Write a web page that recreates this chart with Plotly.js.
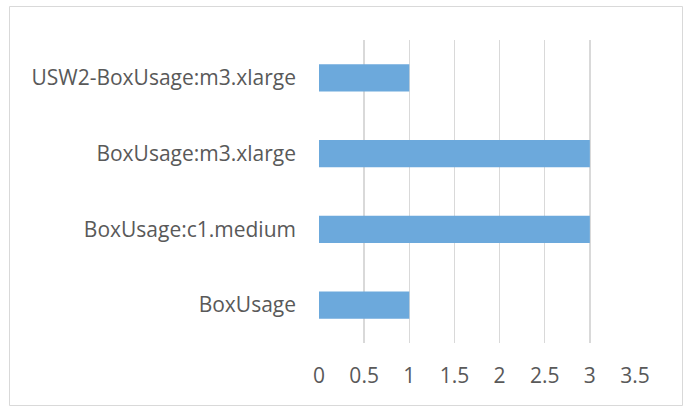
<!DOCTYPE html>
<html>
<head>
<meta charset="utf-8">
<script src="https://cdn.plot.ly/plotly-3.0.1.min.js"></script>
<style>html,body{margin:0;padding:0;background:#fff;}#chart{width:688px;height:407px;}</style>
</head>
<body>
<div id="chart"></div>
<script>
const categories = ["BoxUsage", "BoxUsage:c1.medium", "BoxUsage:m3.xlarge", "USW2-BoxUsage:m3.xlarge"];
const values = [1, 3, 3, 1];
const xTicks = [0, 0.5, 1, 1.5, 2, 2.5, 3, 3.5];
const xTickLabels = ["0", "0.5", "1", "1.5", "2", "2.5", "3", "3.5"];

const W = 688, H = 407;
const L = 319, R = 635, T = 40, B = 343;
const pw = R - L, ph = B - T;
const px = x => (x - L) / pw;
const py = y => (B - y) / ph;

const trace = {
  type: "bar",
  orientation: "h",
  x: values,
  y: categories,
  marker: {color: "#6CA9DC"},
  hoverinfo: "none"
};

const layout = {
  width: W, height: H,
  margin: {l: L, r: W - R, t: T, b: H - B, pad: 0},
  paper_bgcolor: "#fff",
  plot_bgcolor: "#fff",
  showlegend: false,
  bargap: 0.64,
  font: {family: "Open Sans, sans-serif", color: "#595959", size: 21},
  xaxis: {
    range: [0, 3.5],
    tickvals: xTicks,
    ticktext: xTickLabels,
    showgrid: true,
    gridcolor: "#d9d9d9",
    gridwidth: 1.5,
    zeroline: false,
    showline: false,
    ticks: "",
    ticklabelstandoff: 18,
    tickfont: {size: 21, color: "#595959"},
    fixedrange: true
  },
  yaxis: {
    type: "category",
    categoryorder: "array",
    categoryarray: categories,
    showgrid: false,
    zeroline: false,
    showline: false,
    ticks: "",
    ticklabelstandoff: 22,
    tickfont: {size: 21, color: "#595959"},
    fixedrange: true
  },
  shapes: [{
    type: "rect", xref: "paper", yref: "paper",
    x0: px(9.5), x1: px(682.5), y0: py(405.5), y1: py(6.5),
    line: {color: "#d9d9d9", width: 1}, fillcolor: "rgba(0,0,0,0)", layer: "below"
  }]
};

Plotly.newPlot("chart", [trace], layout, {staticPlot: true, displayModeBar: false});
</script>
</body>
</html>
